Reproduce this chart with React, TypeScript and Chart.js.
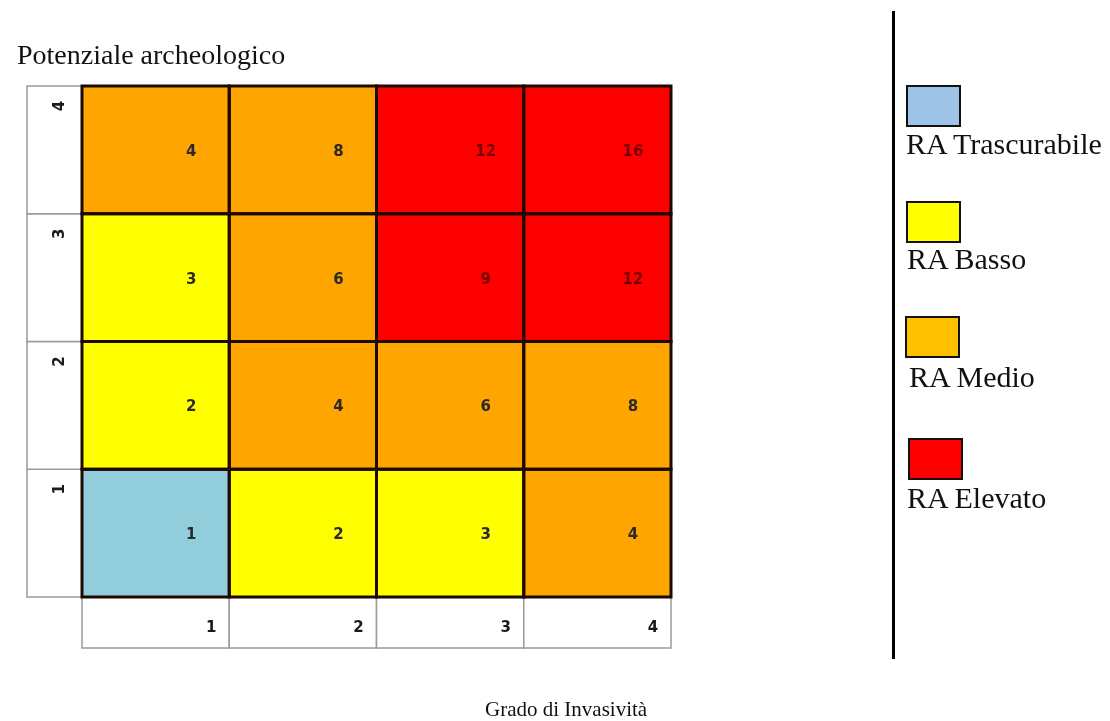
import React, { useEffect, useRef } from 'react';
import { Chart, registerables } from 'chart.js';

Chart.register(...registerables);

// Grado di Invasività (x) and Potenziale archeologico (y)
const invasivita = ['1', '2', '3', '4'];
const potenziale = ['1', '2', '3', '4'];

// Rischio archeologico per riga di potenziale (1..4), colonne invasività 1..4
const rischioPot1 = [1, 2, 3, 4];
const rischioPot2 = [2, 4, 6, 8];
const rischioPot3 = [3, 6, 9, 12];
const rischioPot4 = [4, 8, 12, 16];
const rischioRows = [rischioPot1, rischioPot2, rischioPot3, rischioPot4];

const legendLabels = ['RA Trascurabile', 'RA Basso', 'RA Medio', 'RA Elevato'];
const cellColors = ['#92CDDC', '#FFFF00', '#FFA500', '#FF0000'];
const legendColors = ['#9DC3E6', '#FFFF00', '#FFC000', '#FF0000'];

const levelOf = (v: number) => (v <= 1 ? 0 : v <= 3 ? 1 : v <= 8 ? 2 : 3);

const gridPlugin = {
  id: 'riskGrid',
  beforeDatasetsDraw(chart: any) {
    const ctx = chart.ctx;
    const area = chart.chartArea;
    const yScale = chart.scales.y;
    const meta0 = chart.getDatasetMeta(0);
    ctx.save();
    // left label column
    ctx.fillStyle = '#ffffff';
    ctx.strokeStyle = '#9a9a9a';
    ctx.lineWidth = 1.5;
    const colLeft = area.left - 55;
    for (let i = 0; i < potenziale.length; i++) {
      const top = yScale.getPixelForValue(i + 1);
      const bottom = yScale.getPixelForValue(i);
      ctx.fillStyle = '#ffffff';
      ctx.fillRect(colLeft, top, area.left - colLeft, bottom - top);
      ctx.strokeRect(colLeft, top, area.left - colLeft, bottom - top);
      ctx.save();
      ctx.translate(colLeft + 33, top + 20);
      ctx.rotate(-Math.PI / 2);
      ctx.fillStyle = '#1a1a1a';
      ctx.font = 'bold 15px "DejaVu Sans"';
      ctx.textAlign = 'center';
      ctx.textBaseline = 'middle';
      ctx.fillText(potenziale[i], 0, 0);
      ctx.restore();
    }
    // bottom label row
    const rowTop = area.bottom;
    const rowH = 51;
    meta0.data.forEach((el: any, j: number) => {
      const { x, width } = el.getProps(['x', 'width'], true);
      const left = x - width / 2;
      ctx.fillStyle = '#ffffff';
      ctx.fillRect(left, rowTop, width, rowH);
      ctx.strokeStyle = '#9a9a9a';
      ctx.lineWidth = 1.5;
      ctx.strokeRect(left, rowTop, width, rowH);
      ctx.fillStyle = '#1a1a1a';
      ctx.font = 'bold 15px "DejaVu Sans"';
      ctx.textAlign = 'center';
      ctx.textBaseline = 'middle';
      ctx.fillText(invasivita[j], left + width - 18, rowTop + 31);
    });
    ctx.restore();
  },
  afterDatasetsDraw(chart: any) {
    const ctx = chart.ctx;
    ctx.save();
    chart.data.datasets.forEach((ds: any, i: number) => {
      const meta = chart.getDatasetMeta(i);
      meta.data.forEach((el: any, j: number) => {
        const { x, y, base, width } = el.getProps(['x', 'y', 'base', 'width'], true);
        const left = x - width / 2;
        const top = Math.min(y, base);
        const h = Math.abs(base - y);
        ctx.strokeStyle = '#1c0a00';
        ctx.lineWidth = 3;
        ctx.strokeRect(left, top, width, h);
        const v = ds.rischio[j];
        ctx.fillStyle = levelOf(v) === 3 ? '#7a0000' : '#2a2a2a';
        ctx.font = 'bold 15px "DejaVu Sans"';
        ctx.textAlign = 'center';
        ctx.textBaseline = 'middle';
        ctx.fillText(String(v), left + width - 38, top + h / 2 + 2);
      });
    });
    ctx.restore();
  },
};

export default function App() {
  const canvasRef = useRef<HTMLCanvasElement | null>(null);

  useEffect(() => {
    if (!canvasRef.current) return;
    const chart = new Chart(canvasRef.current, {
      type: 'bar',
      data: {
        labels: invasivita,
        datasets: rischioRows.map((row, i) => ({
          label: 'Potenziale ' + potenziale[i],
          data: row.map(() => [i, i + 1]),
          rischio: row,
          backgroundColor: row.map((v) => cellColors[levelOf(v)]),
          borderWidth: 0,
          barPercentage: 1,
          categoryPercentage: 1,
          grouped: false,
        })) as any,
      },
      options: {
        animation: false,
        responsive: false,
        layout: { padding: { left: 82, top: 86, right: 439, bottom: 124 } },
        plugins: { legend: { display: false }, tooltip: { enabled: false }, title: { display: false } },
        scales: {
          x: { type: 'category', display: false, offset: true },
          y: { type: 'linear', display: false, min: 0, max: 4 },
        },
      },
      plugins: [gridPlugin],
    });
    return () => chart.destroy();
  }, []);

  const serif = '"Liberation Serif", "Times New Roman", serif';
  const textTop = (baseline: number, size: number) => baseline - 0.8375 * size;
  const legendBoxes = [
    { x: 906, y: 85 },
    { x: 906, y: 201 },
    { x: 905, y: 316 },
    { x: 908, y: 438 },
  ];
  const legendText = [
    { x: 906, b: 154 },
    { x: 907, b: 269 },
    { x: 909, b: 387 },
    { x: 907, b: 508 },
  ];

  return (
    <div style={{ position: 'fixed', left: 0, top: 0, width: 1110, height: 721, background: '#fff', overflow: 'hidden' }}>
      <canvas ref={canvasRef} width={1110} height={721} style={{ position: 'absolute', left: 0, top: 0, width: 1110, height: 721 }} />
      <div style={{ position: 'absolute', left: 17, top: textTop(64, 28), fontFamily: serif, fontSize: 28, lineHeight: 1, whiteSpace: 'nowrap', color: '#111' }}>
        Potenziale archeologico
      </div>
      <div style={{ position: 'absolute', left: 485, top: textTop(717, 21), fontFamily: serif, fontSize: 21, lineHeight: 1, whiteSpace: 'nowrap', color: '#111' }}>
        Grado di Invasività
      </div>
      <div style={{ position: 'absolute', left: 892, top: 11, width: 3, height: 648, background: '#000' }} />
      {legendLabels.map((lab, i) => (
        <React.Fragment key={lab}>
          <div
            style={{
              position: 'absolute',
              left: legendBoxes[i].x,
              top: legendBoxes[i].y,
              width: 55,
              height: 42,
              boxSizing: 'border-box',
              border: '2px solid #111',
              background: legendColors[i],
            }}
          />
          <div style={{ position: 'absolute', left: legendText[i].x, top: textTop(legendText[i].b, 30), fontFamily: serif, fontSize: 30, lineHeight: 1, whiteSpace: 'nowrap', color: '#111' }}>
            {lab}
          </div>
        </React.Fragment>
      ))}
    </div>
  );
}
